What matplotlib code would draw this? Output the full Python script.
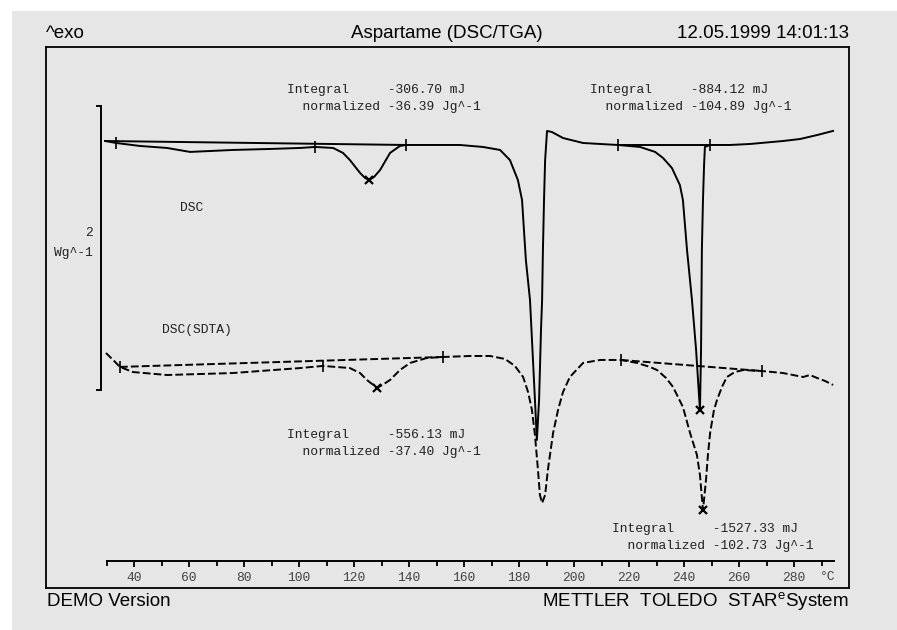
import matplotlib
matplotlib.use("Agg")
import matplotlib.pyplot as plt
import numpy as np
from matplotlib.patches import Rectangle
from matplotlib.ticker import MultipleLocator

plt.rcParams['font.family'] = ['Liberation Sans', 'DejaVu Sans']
plt.rcParams['mathtext.fontset'] = 'custom'
plt.rcParams['mathtext.rm'] = 'Liberation Sans'

# ---- measured curves: temperature (°C) vs. heat flow (W/g) ----
dsc_t = [29.5, 33.5, 42.2, 52.0, 60.4, 76.0, 89.5, 100.4, 105.8, 112.4, 116.0, 118.5,
         122.2, 124.0, 125.5, 127.3, 129.5, 133.1, 136.7, 138.9, 147.6, 158.5, 166.9,
         173.1, 176.7, 179.6, 181.1, 182.5, 184.0, 185.8, 186.5, 187.3, 188.0, 188.4,
         188.7, 189.1, 189.5, 190.2, 192.0, 196.0, 203.3, 209.5, 216.0, 224.0, 229.5,
         232.4, 235.6, 238.5, 239.6, 241.1, 242.9, 244.4, 245.8, 246.2, 246.5, 246.9,
         247.3, 247.6, 249.5, 256.7, 264.0, 276.0, 282.2, 288.4, 294.2]
dsc_w = [0.014, 0.0, -0.021, -0.035, -0.063, -0.049, -0.042, -0.035, -0.028, -0.035,
         -0.070, -0.120, -0.211, -0.246, -0.261, -0.239, -0.190, -0.070, -0.021, -0.014,
         -0.014, -0.014, -0.028, -0.049, -0.120, -0.261, -0.401, -0.824, -1.106, -1.810,
         -2.092, -1.810, -1.317, -1.106, -0.754, -0.401, -0.120, 0.085, 0.077, 0.035,
         0.0, -0.007, -0.014, -0.028, -0.063, -0.106, -0.176, -0.296, -0.401, -0.754,
         -1.106, -1.458, -1.880, -1.458, -0.754, -0.401, -0.155, -0.028, -0.014, -0.014,
         -0.007, 0.014, 0.028, 0.056, 0.085]

sdta_t = [29.8, 32.4, 34.9, 39.6, 52.0, 76.0, 100.4, 108.7, 118.5, 122.2, 124.7, 128.4,
          130.9, 133.1, 136.7, 140.4, 146.5, 152.4, 162.2, 169.5, 174.9, 178.5, 181.5,
          183.3, 184.7, 185.8, 186.9, 187.6, 188.4, 189.5, 190.5, 192.4, 194.2, 196.0,
          198.5, 203.3, 209.5, 217.1, 222.9, 227.6, 230.2, 233.5, 236.0, 239.6, 242.2,
          244.7, 245.8, 246.9, 248.0, 248.7, 249.5, 250.9, 252.0, 253.8, 255.6, 258.5,
          261.5, 268.4, 276.0, 283.3, 285.8, 288.4, 291.3, 294.2]
sdta_w = [0.021, -0.028, -0.077, -0.113, -0.134, -0.120, -0.085, -0.070, -0.085, -0.120,
          -0.169, -0.225, -0.197, -0.169, -0.099, -0.049, -0.014, -0.007, 0.0, 0.0,
          -0.021, -0.070, -0.148, -0.254, -0.380, -0.556, -0.803, -0.979, -1.035, -0.979,
          -0.803, -0.542, -0.380, -0.254, -0.148, -0.049, -0.028, -0.028, -0.049, -0.077,
          -0.099, -0.155, -0.218, -0.359, -0.542, -0.697, -0.838, -1.085, -0.873, -0.697,
          -0.542, -0.380, -0.310, -0.218, -0.148, -0.113, -0.099, -0.106, -0.120, -0.148,
          -0.134, -0.155, -0.176, -0.204]
sdta_offset = -1.5  # SDTA trace shifted below the DSC trace

# integration limits, peak temperatures and evaluation results
dsc_limits = [33.5, 105.8, 138.9, 216.0, 249.5]
dsc_baselines = [(29.5, 138.9), (216.0, 249.5)]
dsc_peaks = [125.5, 245.8]
sdta_limits = [34.9, 108.7, 152.4, 217.1, 268.4]
sdta_baselines = [(34.9, 152.4), (217.1, 268.4)]
sdta_peaks = [128.4, 246.9]

integrals = ["-306.70", "-884.12", "-556.13", "-1527.33"]
normalized = ["-36.39", "-104.89", "-37.40", "-102.73"]

scale_top = 0.26   # W/g
scale_len = 2.0    # W/g

x_major = list(range(40, 281, 20))

W, H = 897, 630
BG = '#e6e6e6'
MONO = ['Liberation Mono', 'DejaVu Sans Mono']


def fx(x):
    return x / W


def fy(y):
    return 1 - y / H


fig = plt.figure(figsize=(W / 100, H / 100), dpi=100)
fig.patch.set_facecolor('white')
fig.patches.append(Rectangle((fx(12), 0), 1 - fx(12), fy(11), transform=fig.transFigure,
                             facecolor=BG, edgecolor='none', zorder=-10))

# main plotting frame
ax = fig.add_axes([fx(46), fy(588), fx(849 - 46), (588 - 47) / H])
ax.set_facecolor(BG)
ax.set_xlim(8, 300)
ax.set_ylim(-3.134, 0.676)
ax.set_xticks([])
ax.set_yticks([])
for s in ax.spines.values():
    s.set_linewidth(1.3)

dsc_t = np.array(dsc_t)
dsc_w = np.array(dsc_w)
sdta_t = np.array(sdta_t)
sdta_w = np.array(sdta_w) + sdta_offset

dash = (0, (4.0, 1.6))
ax.plot(dsc_t, dsc_w, color='black', lw=1.4, solid_joinstyle='round')
ax.plot(sdta_t, sdta_w, color='black', lw=1.4, linestyle=dash)

for a, b in dsc_baselines:
    ax.plot([a, b], np.interp([a, b], dsc_t, dsc_w), color='black', lw=1.4)
for a, b in sdta_baselines:
    ax.plot([a, b], np.interp([a, b], sdta_t, sdta_w), color='black', lw=1.4, linestyle=dash)

ax.plot(dsc_limits, np.interp(dsc_limits, dsc_t, dsc_w), '|', color='black', ms=9, mew=1.2)
ax.plot(sdta_limits, np.interp(sdta_limits, sdta_t, sdta_w), '|', color='black', ms=9, mew=1.2)
ax.plot(dsc_peaks, np.interp(dsc_peaks, dsc_t, dsc_w), 'x', color='black', ms=6, mew=1.6)
ax.plot(sdta_peaks, np.interp(sdta_peaks, sdta_t, sdta_w), 'x', color='black', ms=6, mew=1.6)

# scale bar 2 W/g
ax.plot([26.5, 28, 28, 26.5],
        [scale_top, scale_top, scale_top - scale_len, scale_top - scale_len],
        color='black', lw=1.4, solid_joinstyle='miter')

# temperature axis drawn inside the frame
tax = fig.add_axes([fx(106.5), fy(561), fx(834 - 106.5), 0.001])
tax.set_facecolor('none')
tax.set_xlim(30, 294.5)
tax.set_yticks([])
for side in ['top', 'left', 'right']:
    tax.spines[side].set_visible(False)
tax.spines['bottom'].set_linewidth(1.4)
tax.set_xticks(x_major)
tax.xaxis.set_minor_locator(MultipleLocator(10))
tax.tick_params(axis='x', which='major', direction='out', length=4, width=1.3,
                pad=4, labelsize=9.4, labelcolor='#444444')
tax.tick_params(axis='x', which='minor', direction='out', length=3.5, width=1.3)
for lab in tax.get_xticklabels():
    lab.set_family(MONO)
fig.text(fx(820), fy(577), '°C', family=MONO, fontsize=9.4, color='#444444',
         ha='left', va='center')

# header and footer
fig.text(fx(46), fy(34), '^exo', fontsize=13.5, ha='left', va='center')
fig.text(fx(447), fy(34), 'Aspartame (DSC/TGA)', fontsize=13.5, ha='center', va='center')
fig.text(fx(849), fy(34), '12.05.1999 14:01:13', fontsize=13.5, ha='right', va='center')
fig.text(fx(47), fy(602), 'DEMO Version', fontsize=13.5, ha='left', va='center')
fig.text(fx(849), fy(602), r'METTLER  TOLEDO  STAR$^{\mathrm{e}}$System', fontsize=13.5,
         ha='right', va='center')

# curve names and scale label
fig.text(fx(180), fy(208), 'DSC', family=MONO, fontsize=9.4, color='#222222', va='center')
fig.text(fx(162), fy(330), 'DSC(SDTA)', family=MONO, fontsize=9.4, color='#222222', va='center')
fig.text(fx(93), fy(233), '2', family=MONO, fontsize=9.4, color='#222222', ha='right', va='center')
fig.text(fx(93), fy(253), 'Wg^-1', family=MONO, fontsize=9.4, color='#222222', ha='right', va='center')

# evaluation results
result_pos = [(287, 90), (590, 90), (287, 435), (612, 529)]
for (x, y), integ, norm in zip(result_pos, integrals, normalized):
    fig.text(fx(x), fy(y), f'Integral     {integ} mJ', family=MONO, fontsize=9.4,
             color='#222222', ha='left', va='center')
    fig.text(fx(x), fy(y + 17), f'  normalized {norm} Jg^-1', family=MONO, fontsize=9.4,
             color='#222222', ha='left', va='center')

fig.savefig('out.png', dpi=100, facecolor=fig.get_facecolor())
